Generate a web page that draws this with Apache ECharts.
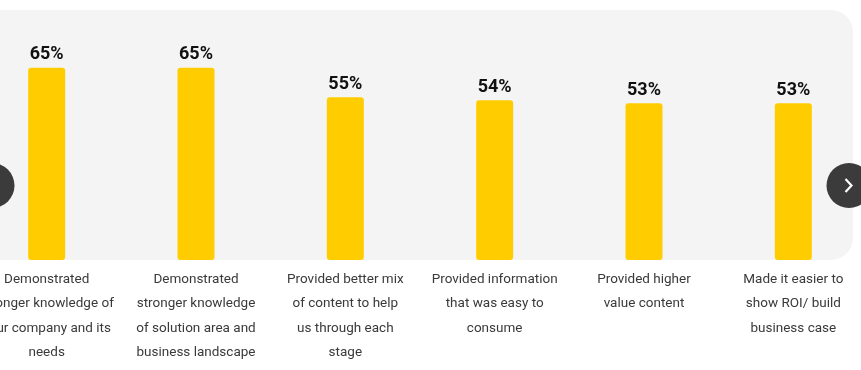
<!DOCTYPE html>
<html>
<head>
<meta charset="utf-8">
<style>
html,body{margin:0;padding:0;background:#fff;}
#chart{width:861px;height:370px;}
</style>
<script src="https://cdn.jsdelivr.net/npm/echarts@6/dist/echarts.min.js"></script>
</head>
<body>
<div id="chart"></div>
<script>
var categories = [
  "Demonstrated\nstronger knowledge of\nyour company and its\nneeds",
  "Demonstrated\nstronger knowledge\nof solution area and\nbusiness landscape",
  "Provided better mix\nof content to help\nus through each\nstage",
  "Provided information\nthat was easy to\nconsume",
  "Provided higher\nvalue content",
  "Made it easier to\nshow ROI/ build\nbusiness case"
];
var values = [65, 65, 55, 54, 53, 53];

var chart = echarts.init(document.getElementById('chart'), null, {renderer: 'canvas'});
chart.setOption({
  animation: false,
  backgroundColor: '#ffffff',
  grid: {left: -28, right: -7, top: 53, bottom: 110, containLabel: false, outerBoundsMode: 'none'},
  graphic: [
    {type: 'rect', z: -10, silent: true,
     shape: {x: -40, y: 10, width: 893, height: 250, r: [0, 22, 22, 0]},
     style: {fill: '#f4f4f4'}},
    {type: 'circle', z: 100, shape: {cx: -8, cy: 185.5, r: 22.5}, style: {fill: '#3b3b3b'}},
    {type: 'circle', z: 100, shape: {cx: 849, cy: 185.5, r: 22.5}, style: {fill: '#3b3b3b'}},
    {type: 'polyline', z: 101, shape: {points: [[845.5, 179], [851.5, 185.5], [845.5, 192]]},
     style: {stroke: '#ffffff', lineWidth: 2.2, fill: null}}
  ],
  xAxis: {
    type: 'category',
    data: categories,
    axisLine: {show: false},
    axisTick: {show: false},
    axisLabel: {
      interval: 0,
      margin: 7,
      color: '#3a3a3a',
      fontFamily: 'Roboto',
      fontSize: 13.5,
      lineHeight: 24.5
    }
  },
  yAxis: {
    type: 'value', min: 0, max: 70, show: false,
    splitLine: {show: false}
  },
  series: [{
    type: 'bar',
    data: values,
    barWidth: 37,
    itemStyle: {color: '#ffcc00', borderRadius: 3},
    label: {
      show: true,
      position: 'top',
      distance: 4,
      formatter: '{c}%',
      color: '#111111',
      fontFamily: 'Roboto',
      fontWeight: 'bold',
      fontSize: 18
    }
  }]
});
</script>
</body>
</html>
